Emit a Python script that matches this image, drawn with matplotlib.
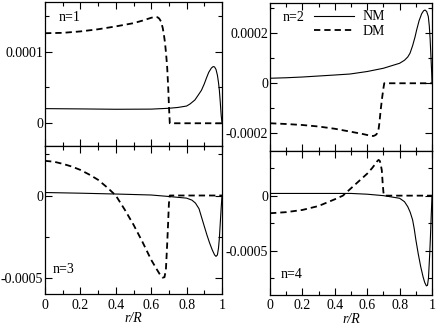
import matplotlib
matplotlib.use("Agg")
import matplotlib.pyplot as plt
from matplotlib.ticker import MultipleLocator

plt.rcParams['font.family'] = ['Liberation Serif', 'DejaVu Serif']
plt.rcParams['font.size'] = 10

# values in units of 1e-4
scale = 1e-4

r_nm1 = [0, 0.2, 0.4, 0.6, 0.7, 0.75, 0.8, 0.82, 0.847, 0.865, 0.884, 0.9, 0.912, 0.925, 0.94,
         0.95, 0.958, 0.966, 0.974, 0.98, 0.985, 0.99, 0.995, 1.0]
nm1 = [0.204, 0.2, 0.195, 0.197, 0.209, 0.22, 0.24, 0.27, 0.325, 0.39, 0.46, 0.55, 0.63, 0.71, 0.77,
       0.79, 0.785, 0.75, 0.67, 0.57, 0.46, 0.3, 0.12, 0.0]
r_dm1 = [0, 0.1, 0.2, 0.3, 0.4, 0.5, 0.55, 0.6, 0.62, 0.635, 0.645, 0.655, 0.665, 0.672, 0.678,
         0.684, 0.69, 0.696, 0.701, 0.705, 1.0]
dm1 = [1.255, 1.26, 1.28, 1.31, 1.35, 1.395, 1.43, 1.47, 1.482, 1.478, 1.46, 1.42, 1.33, 1.23, 1.12,
       0.97, 0.79, 0.5, 0.2, 0.0, 0.0]

r_nm2 = [0, 0.1, 0.2, 0.3, 0.4, 0.494, 0.6, 0.7, 0.8, 0.83, 0.85, 0.864, 0.88, 0.895, 0.905, 0.92,
         0.936, 0.948, 0.957, 0.967, 0.977, 0.983, 0.988, 0.993, 0.998, 1.0]
nm2 = [0.20, 0.22, 0.25, 0.29, 0.33, 0.37, 0.47, 0.60, 0.80, 0.92, 1.05, 1.2, 1.5, 1.85, 2.13, 2.5,
       2.78, 2.9, 2.93, 2.87, 2.67, 2.3, 1.8, 1.1, 0.4, 0.0]
r_dm2 = [0, 0.1, 0.2, 0.3, 0.4, 0.5, 0.58, 0.6, 0.62, 0.638, 0.652, 0.662, 0.668, 0.675, 0.683,
         0.693, 0.70, 0.705, 1.0]
dm2 = [-1.6, -1.63, -1.67, -1.73, -1.82, -1.94, -2.04, -2.07, -2.1, -2.11, -2.07, -2.0, -1.93, -1.6,
       -1.07, -0.53, -0.2, 0.0, 0.0]

r_nm3 = [0, 0.2, 0.4, 0.6, 0.7, 0.8, 0.83, 0.85, 0.87, 0.9, 0.915, 0.93, 0.945, 0.958, 0.966,
         0.974, 0.98, 0.985, 0.99, 0.995, 1.0]
nm3 = [0.18, 0.14, 0.09, 0.03, -0.06, -0.16, -0.28, -0.46, -0.8, -1.87, -2.4, -2.88, -3.3, -3.6,
       -3.69, -3.6, -3.2, -2.6, -1.7, -0.8, 0.0]
r_dm3 = [0, 0.05, 0.1, 0.15, 0.2, 0.25, 0.3, 0.35, 0.4, 0.45, 0.5, 0.55, 0.6, 0.63, 0.65, 0.665,
         0.675, 0.683, 0.69, 0.695, 0.7, 0.705, 1.0]
dm3 = [2.1, 2.05, 1.92, 1.76, 1.55, 1.27, 0.95, 0.5, 0.0, -0.85, -1.77, -2.8, -3.9, -4.45, -4.8,
       -4.98, -4.95, -4.5, -3.0, -1.8, -0.5, 0.0, 0.0]

r_nm4 = [0, 0.2, 0.4, 0.5, 0.6, 0.7, 0.8, 0.83, 0.85, 0.865, 0.88, 0.89, 0.9, 0.915, 0.93, 0.945,
         0.955, 0.965, 0.972, 0.978, 0.985, 0.99, 0.995, 1.0]
nm4 = [0.2, 0.2, 0.2, 0.2, 0.13, 0.0, -0.24, -0.55, -1.0, -1.5, -2.2, -3.0, -4.0, -5.3, -6.45, -7.4,
       -7.9, -8.2, -8.15, -7.5, -5.5, -3.8, -1.8, 0.0]
r_dm4 = [0, 0.1, 0.2, 0.3, 0.4, 0.45, 0.5, 0.6, 0.63, 0.65, 0.66, 0.67, 0.678, 0.685, 0.69, 0.695,
         0.70, 0.705, 1.0]
dm4 = [-1.6, -1.5, -1.3, -0.94, -0.33, 0.0, 0.67, 2.0, 2.5, 2.88, 3.1, 3.25, 3.15, 2.7, 2.3, 1.2,
       0.3, 0.0, 0.0]

x_ticks = [0, 0.2, 0.4, 0.6, 0.8, 1.0]
x_labels = ['0', '0.2', '0.4', '0.6', '0.8', '1']

panels = [
    # rect, r_nm, nm, r_dm, dm, ylim, yticks, ylabels, minor, name, name position
    ([0.1032, 0.5535, 0.406, 0.4404], r_nm1, nm1, r_dm1, dm1, (-0.317e-4, 1.69e-4),
     [0, 1e-4], ['0', '0.0001'], 0.5e-4, 'n=1', (0.075, 0.89)),
    ([0.6193, 0.5382, 0.3716, 0.4526], r_nm2, nm2, r_dm2, dm2, (-2.71e-4, 3.21e-4),
     [-2e-4, 0, 2e-4], ['-0.0002', '0', '0.0002'], 1e-4, 'n=2', (0.075, 0.90)),
    ([0.1032, 0.0994, 0.406, 0.4541], r_nm3, nm3, r_dm3, dm3, (-6.0e-4, 3.0e-4),
     [-5e-4, 0], ['-0.0005', '0'], 2.5e-4, 'n=3', (0.045, 0.165)),
    ([0.6193, 0.0979, 0.3716, 0.4404], r_nm4, nm4, r_dm4, dm4, (-9.03e-4, 4.06e-4),
     [-5e-4, 0], ['-0.0005', '0'], 2.5e-4, 'n=4', (0.068, 0.14)),
]

fig = plt.figure(figsize=(4.36, 3.27), dpi=100)

for i, (rect, rn, vn, rd, vd, ylim, yt, yl, minor, name, pos) in enumerate(panels):
    ax = fig.add_axes(rect)
    ax.plot(rn, [v * scale for v in vn], color='black', lw=0.8, label='NM')
    ax.plot(rd, [v * scale for v in vd], color='black', lw=1.3, dashes=(3.5, 2.2), label='DM')
    ax.set_xlim(0, 1)
    ax.set_ylim(*ylim)
    ax.set_yticks(yt)
    ax.set_yticklabels(yl)
    ax.yaxis.set_minor_locator(MultipleLocator(minor))
    ax.set_xticks(x_ticks)
    ax.xaxis.set_minor_locator(MultipleLocator(0.1))
    ax.tick_params(which='both', direction='in', top=True, right=True)
    ax.tick_params(axis='y', pad=1.5)
    ax.tick_params(axis='x', pad=3)
    ax.tick_params(which='major', length=5, width=0.8)
    ax.tick_params(which='minor', length=3, width=0.8)
    if i >= 2:
        ax.set_xticklabels(x_labels)
        ax.set_xlabel('r/R', fontstyle='italic', labelpad=0.5)
    else:
        ax.set_xticklabels([])
    for s in ax.spines.values():
        s.set_linewidth(0.9)
    ax.text(pos[0], pos[1], name, transform=ax.transAxes, ha='left', va='center')
    if i == 1:
        ax.legend(loc='upper left', bbox_to_anchor=(0.27, 0.95), frameon=False,
                  handlelength=2.9, borderpad=0, borderaxespad=0, labelspacing=0.1,
                  handletextpad=0.6)

fig.savefig('out.png', dpi=100)
